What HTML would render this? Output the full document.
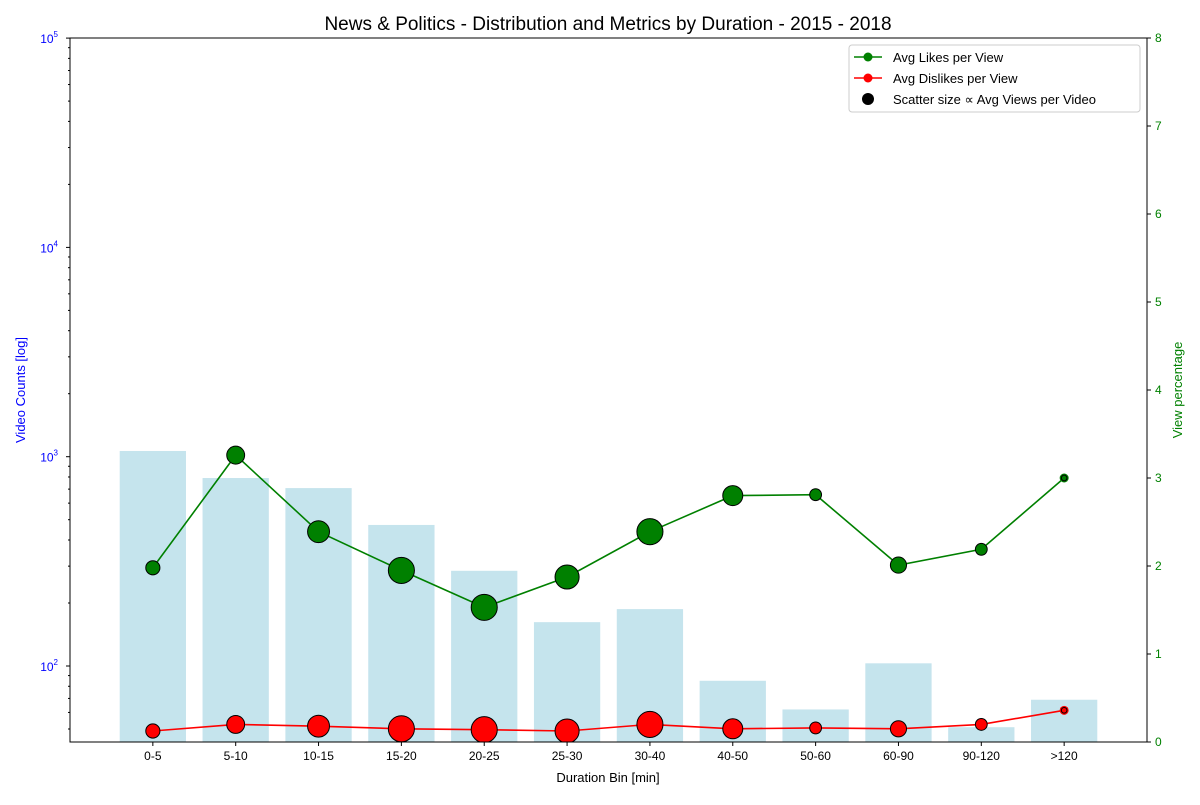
<!DOCTYPE html>
<html><head><meta charset="utf-8"><style>
body{margin:0;background:#fff;font-family:"Liberation Sans",sans-serif}
svg text{font-family:"Liberation Sans",sans-serif}
</style></head><body>
<svg id="c" width="1200" height="800"></svg>
<script>
const categories=["0-5","5-10","10-15","15-20","20-25","25-30","30-40","40-50","50-60","60-90","90-120",">120"];
const videoCounts=[1065,791,708,472,285,162,187,85,62,103,51,69];
const likesPct=[1.98,3.26,2.39,1.95,1.53,1.875,2.39,2.80,2.81,2.01,2.19,3.0];
const dislikesPct=[0.125,0.2,0.18,0.15,0.14,0.125,0.2,0.15,0.16,0.15,0.2,0.36];
const avgViews=[50,80,120,170,170,145,170,100,35,65,35,8];
const rightTicks=[0,1,2,3,4,5,6,7,8];
const leftTicks=[2,3,4,5];
const NS="http://www.w3.org/2000/svg";
const svg=document.getElementById('c');
const L=70,R=1147,T=38,B=742;
const x=i=>L+(i+1)*(R-L)/13;
const ylog=v=>666-(Math.log10(v)-2)*209.3;
const yr=v=>B-v*(B-T)/8;
function mk(t,a,p){const e=document.createElementNS(NS,t);for(const k in a)e.setAttribute(k,a[k]);(p||svg).appendChild(e);return e;}
function txt(s,a){const e=mk('text',a);e.textContent=s;return e;}
const clip=mk('clipPath',{id:'cp'});mk('rect',{x:L,y:T,width:R-L,height:B-T},clip);
const g=mk('g',{'clip-path':'url(#cp)'});
const bw=0.8*(R-L)/13;
videoCounts.forEach((v,i)=>{const r=mk('rect',{x:x(i)-bw/2,y:ylog(v),width:bw,height:B-ylog(v),fill:'#add8e6','fill-opacity':0.7},g);

});
function line(vals,col,name){const pts=vals.map((v,i)=>x(i)+','+yr(v)).join(' ');
const pl=mk('polyline',{points:pts,fill:'none',stroke:col,'stroke-width':1.6},g);


vals.forEach((v,i)=>{const c=mk('circle',{cx:x(i),cy:yr(v),r:4.5,fill:col},g);

});}
function scat(vals,col,name){vals.forEach((v,i)=>{const c=mk('circle',{cx:x(i),cy:yr(v),r:Math.sqrt(avgViews[i])*1.0,fill:col,stroke:'#000','stroke-width':1},g);

});}
line(likesPct,'green','likes');line(dislikesPct,'red','dislikes');
scat(likesPct,'green','likes');scat(dislikesPct,'red','dislikes');
mk('rect',{x:L,y:T,width:R-L,height:B-T,fill:'none',stroke:'#000','stroke-width':1});
// left ticks
leftTicks.forEach(p=>{const y=666-(p-2)*209.3;mk('line',{x1:L-4,x2:L,y1:y,y2:y,stroke:'#000'});
const t=txt('10',{x:L-12,y:y+5,'font-size':12,fill:'blue','text-anchor':'end'});
const s=mk('tspan',{dy:-6,'font-size':8},t);s.textContent=p;});
for(let p=1;p<5;p++)for(let k=2;k<10;k++){const y=ylog(Math.pow(10,p)*k);if(y<T||y>B)continue;mk('line',{x1:L-2,x2:L,y1:y,y2:y,stroke:'#000'});}
rightTicks.forEach(v=>{const y=yr(v);mk('line',{x1:R,x2:R+4,y1:y,y2:y,stroke:'#000'});
txt(String(v),{x:R+8,y:y+4,'font-size':12,fill:'green'});});
categories.forEach((c,i)=>{mk('line',{x1:x(i),x2:x(i),y1:B,y2:B+4,stroke:'#000'});
txt(c,{x:x(i),y:B+18,'font-size':12,'text-anchor':'middle'});});
const t1=txt('News & Politics - Distribution and Metrics by Duration - 2015 - 2018',{x:608,y:30,'font-size':19,'text-anchor':'middle'});

const xl=txt('Duration Bin [min]',{x:608,y:782,'font-size':13,'text-anchor':'middle'});

const yl=txt('Video Counts [log]',{x:0,y:0,'font-size':13,'text-anchor':'middle',fill:'blue',transform:'translate(25,390) rotate(-90)'});

const y2=txt('View percentage',{x:0,y:0,'font-size':13,'text-anchor':'middle',fill:'green',transform:'translate(1182,390) rotate(-90)'});

// legend
const lg=mk('g',{});
mk('rect',{x:849,y:45,width:291,height:67,rx:3,fill:'#fff',stroke:'#ccc'},lg);
[['Avg Likes per View','green',57],['Avg Dislikes per View','red',78]].forEach(([s,c,y])=>{
mk('line',{x1:854,x2:882,y1:y,y2:y,stroke:c,'stroke-width':1.6},lg);mk('circle',{cx:868,cy:y,r:4.5,fill:c},lg);
const e=txt(s,{x:893,y:y+5,'font-size':13});});
mk('circle',{cx:868,cy:99,r:6,fill:'#000'},lg);
const e3=txt('Scatter size ∝ Avg Views per Video',{x:893,y:104,'font-size':13});

</script></body></html>
